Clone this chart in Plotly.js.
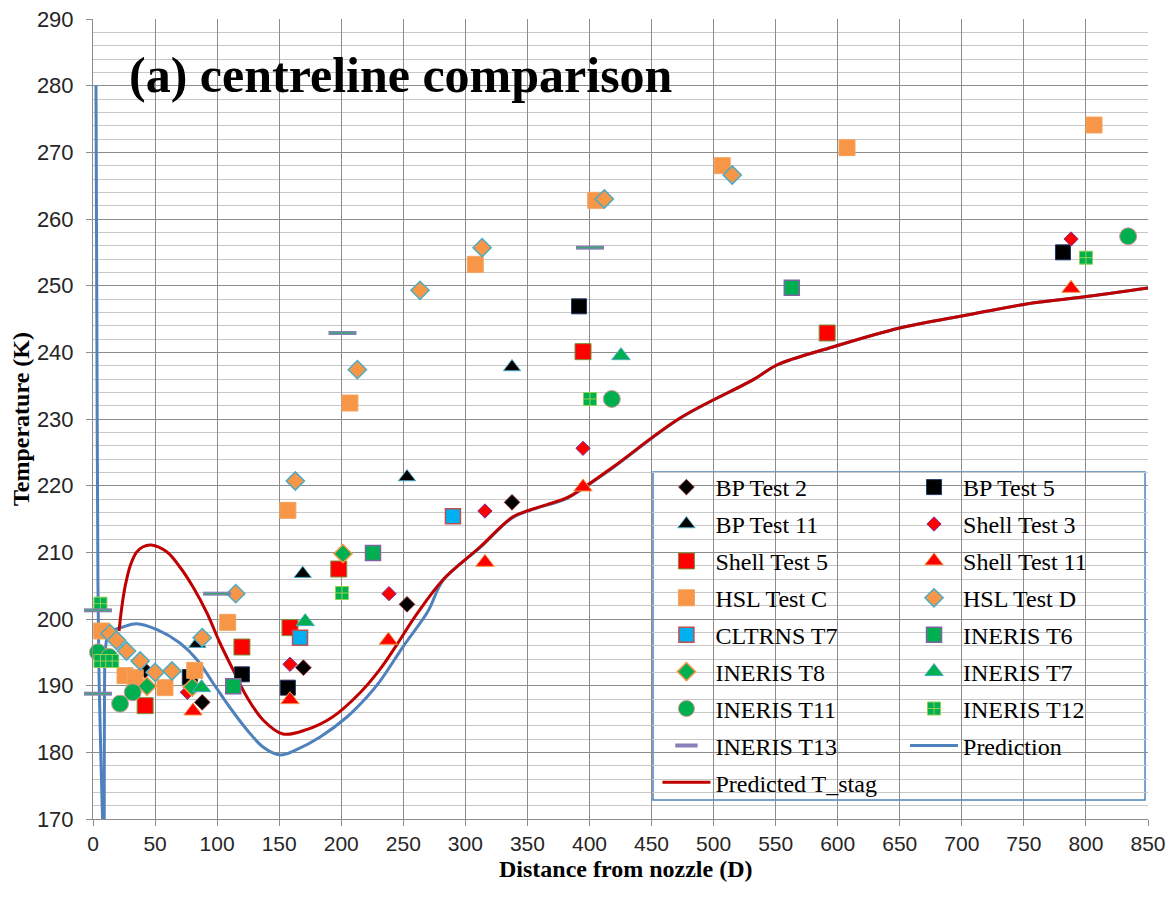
<!DOCTYPE html>
<html><head><meta charset="utf-8">
<script src="https://cdn.plot.ly/plotly-3.0.1.min.js"></script>
<style>html,body{margin:0;padding:0;background:#fff}#chart{width:1167px;height:899px}</style>
</head><body><div id="chart"></div>
<script>
// ---- data (distance from nozzle in D, temperature in K) ----
const bp2X = [42, 88, 169.5, 253, 337.6];
const bp2Y = [192.3, 187.5, 192.7, 202.2, 217.5];
const bp5X = [78, 120, 157, 391.6, 781.5];
const bp5Y = [191.3, 191.7, 189.7, 246.9, 255.0];
const bp11X = [84, 169, 253, 337.6];
const bp11Y = [196.3, 206.8, 221.3, 237.8];
const shell3X = [76, 158.7, 238.5, 315.8, 394.8, 788];
const shell3Y = [189.0, 193.2, 203.8, 216.2, 225.6, 257.0];
const shell5X = [42, 120, 158.7, 198, 394.8, 591.5];
const shell5Y = [187.0, 195.8, 198.7, 207.5, 240.1, 242.9];
const shell11X = [80.6, 158.7, 238, 315.8, 394.8, 788];
const shell11Y = [186.2, 187.9, 196.8, 208.5, 219.8, 249.6];
const hslCX = [7, 25.8, 34, 58, 82, 108.5, 157, 207, 308, 405, 507, 607.5, 806.5];
const hslCY = [198.2, 191.5, 191.2, 189.7, 192.3, 199.5, 216.3, 232.4, 253.2, 262.8, 268.0, 270.7, 274.1];
const hslDX = [13.7, 19, 27, 38, 50, 63.6, 88, 115, 163, 213, 263.5, 313.5, 412, 515];
const hslDY = [197.8, 196.8, 195.2, 193.7, 192.0, 192.2, 197.2, 203.8, 220.7, 237.4, 249.3, 255.7, 263.0, 266.6];
const cltrnsX = [166.8, 290];
const cltrnsY = [197.2, 215.4];
const in6X = [113, 225.6, 563];
const in6Y = [189.9, 209.9, 249.7];
const in8X = [43.5, 80, 201.4];
const in8Y = [189.9, 189.8, 209.8];
const in7X = [87.5, 171, 425.4];
const in7Y = [189.7, 199.6, 239.5];
const in11X = [4, 13, 21.8, 32, 418, 834];
const in11Y = [195.0, 194.3, 187.3, 189.0, 233.0, 257.4];
const in12X = [6, 6, 15.5, 200.6, 400.4, 800];
const in12Y = [202.3, 193.7, 193.7, 203.9, 233.0, 254.2];
const in13X = [4, 4, 100, 201, 400.4];
const in13Y = [201.3, 188.8, 203.8, 242.9, 255.7];
const predX = [2.4, 3, 4, 5, 6.5, 8, 8.8, 9, 9.1, 9.3, 10, 12, 16, 24, 35, 51.6, 70, 83.8, 96.7, 110, 124, 137, 150.7, 164, 183, 204.6, 220.7, 231, 250, 270, 282, 311.8, 338, 352, 382, 394.8, 419, 473, 532, 551, 596, 650, 704, 757, 797.6, 850];
const predY = [280, 250, 205, 190, 178, 168, 160, 165, 180, 190, 195.5, 197.5, 198.3, 198.8, 199.3, 198.4, 196.4, 193.9, 190.4, 186.8, 183.4, 180.8, 179.6, 180.4, 182.3, 185.3, 188.3, 190.6, 195.9, 201.2, 205.8, 210.7, 215.2, 216.3, 218.1, 219.6, 222.7, 230.1, 235.9, 238.1, 240.8, 243.65, 245.6, 247.4, 248.3, 249.65];
const stagX = [21, 23, 26, 30, 35, 40, 47, 59.6, 70, 80.6, 91.8, 102.3, 112.8, 124, 137, 153, 172, 193, 215, 231, 245, 260, 282, 311.8, 338, 352, 382, 394.8, 419, 473, 532, 551, 596, 650, 704, 757, 797.6, 850];
const stagY = [198.2, 201.5, 205, 208, 210, 210.8, 211.1, 210.05, 207.8, 204.8, 200.9, 196.4, 192.4, 188.3, 184.85, 182.75, 183.4, 185.3, 188.9, 192.4, 196.2, 200.5, 205.9, 210.8, 215.3, 216.35, 218.2, 219.65, 222.8, 230.15, 235.9, 238.1, 240.8, 243.65, 245.6, 247.4, 248.3, 249.65];
const xTicks = [0, 50, 100, 150, 200, 250, 300, 350, 400, 450, 500, 550, 600, 650, 700, 750, 800, 850];
const yTicks = [170, 180, 190, 200, 210, 220, 230, 240, 250, 260, 270, 280, 290];

function mk(name, xs, ys, sym, size, fill, lc, lw, leg, rank) {
  return {type: 'scatter', mode: 'markers', name: name, x: xs, y: ys,
    legend: leg, legendgroup: name, legendrank: rank, cliponaxis: false,
    marker: {symbol: sym, size: size, color: fill, line: {color: lc, width: lw}}};
}

const traces = [
  {type: 'scatter', mode: 'lines', name: 'Prediction', x: predX, y: predY, legend: 'legend2', legendgroup: 'pred', legendrank: 8,
   line: {color: '#4f81bd', width: 3, shape: 'spline', smoothing: 1}},
  {type: 'scatter', mode: 'lines', name: 'Predicted T_stag', x: stagX, y: stagY, legend: 'legend', legendgroup: 'stag', legendrank: 9,
   line: {color: '#c00000', width: 3, shape: 'spline', smoothing: 1}},
  mk('BP Test 2', bp2X, bp2Y, 'diamond', 12, '#000000', '#8b2a2a', 1, 'legend', 1),
  mk('BP Test 5', bp5X, bp5Y, 'square', 15, '#000000', '#1f3864', 1, 'legend2', 1),
  mk('BP Test 11', bp11X, bp11Y, 'triangle-up', 15, '#000000', '#4bacc6', 1, 'legend', 2),
  mk('Shell Test 3', shell3X, shell3Y, 'diamond', 11, '#ff0000', '#7030a0', 1, 'legend2', 2),
  mk('Shell Test 5', shell5X, shell5Y, 'square', 16, '#ff0000', '#77933c', 1, 'legend', 3),
  mk('Shell Test 11', shell11X, shell11Y, 'triangle-up', 16, '#ff0000', '#f79646', 1, 'legend2', 3),
  mk('HSL Test C', hslCX, hslCY, 'square', 16, '#f79646', '#f4a460', 1, 'legend', 4),
  mk('HSL Test D', hslDX, hslDY, 'diamond', 14, '#f79646', '#4bacc6', 1.5, 'legend2', 4),
  mk('CLTRNS T7', cltrnsX, cltrnsY, 'square', 15, '#00b0f0', '#c0504d', 1.5, 'legend', 5),
  mk('INERIS T6', in6X, in6Y, 'square', 15, '#00b050', '#8064a2', 1.5, 'legend2', 5),
  mk('INERIS T8', in8X, in8Y, 'diamond', 14, '#00b050', '#f79646', 1.5, 'legend', 6),
  mk('INERIS T7', in7X, in7Y, 'triangle-up', 16, '#00b050', '#4bacc6', 1, 'legend2', 6),
  mk('INERIS T11', in11X, in11Y, 'circle', 17, '#00b050', '#d99694', 1, 'legend', 7),
  mk('INERIS T12', in12X, in12Y, 'square-cross', 13, '#00b050', '#92d050', 1, 'legend2', 7),
  mk('INERIS T13', in13X, in13Y, 'line-ew', 20, '#8c7fb8', '#8c7fb8', 4, 'legend', 8),
  {type: 'scatter', mode: 'markers', name: 'INERIS T13', x: in13X, y: in13Y, showlegend: false, cliponaxis: false, hoverinfo: 'skip',
   marker: {symbol: 'line-ew', size: 18, color: '#00b050', line: {color: '#3aa870', width: 1.5}}}
];

const legendCommon = {
  xanchor: 'left', yanchor: 'top', bgcolor: 'rgba(0,0,0,0)', borderwidth: 0,
  font: {family: 'Liberation Serif, Times New Roman, serif', size: 24, color: '#000'},
  itemwidth: 48, tracegroupgap: 2.7, traceorder: 'grouped', orientation: 'v'
};

const serif = 'Liberation Serif, Times New Roman, serif';
const layout = {
  width: 1167, height: 899,
  margin: {l: 93, r: 19, t: 19, b: 80},
  paper_bgcolor: '#ffffff', plot_bgcolor: '#ffffff',
  showlegend: true,
  xaxis: {range: [0, 850], tickvals: xTicks, ticktext: xTicks.map(String),
    showgrid: true, gridcolor: '#8c8c8c', gridwidth: 1,
    showline: true, linecolor: '#8c8c8c', linewidth: 1, zeroline: false,
    ticks: 'outside', ticklen: 6, tickcolor: '#8c8c8c',
    tickfont: {family: 'Liberation Sans, Arial, sans-serif', size: 21, color: '#262626'}},
  yaxis: {range: [170, 290], tickvals: yTicks, ticktext: yTicks.map(String),
    showgrid: true, gridcolor: '#8c8c8c', gridwidth: 1,
    minor: {dtick: 2, showgrid: true, gridcolor: '#c8c8c8', gridwidth: 1},
    showline: true, linecolor: '#8c8c8c', linewidth: 1, zeroline: false,
    ticks: 'outside', ticklen: 6, tickcolor: '#8c8c8c', ticklabelstandoff: 8,
    tickfont: {family: 'Liberation Sans, Arial, sans-serif', size: 22, color: '#262626'},
    title: {text: 'Temperature (K)', standoff: 0,
      font: {family: serif, size: 24, weight: 'bold', color: '#000'}}},
  legend: Object.assign({}, legendCommon, {x: 0.535, y: 0.4425}),
  legend2: Object.assign({}, legendCommon, {x: 0.7697, y: 0.4425}),
  shapes: [
    {type: 'rect', xref: 'paper', yref: 'paper', x0: 0.5308, x1: 0.9972, y0: 0.02375, y1: 0.43375,
     layer: 'between', fillcolor: '#ffffff', line: {color: '#4f81bd', width: 1.5}},
    {type: 'rect', xref: 'paper', yref: 'paper', x0: 0.0161, x1: 0.6019, y0: 0.88875, y1: 0.98625,
     layer: 'between', fillcolor: '#ffffff', line: {width: 0}}
  ],
  annotations: [
    {text: '(a) centreline comparison', xref: 'paper', yref: 'paper', x: 0.0322, y: 0.93,
     xanchor: 'left', yanchor: 'middle', showarrow: false,
     font: {family: serif, size: 50, weight: 'bold', color: '#000'}},
    {text: 'Distance from nozzle (D)', xref: 'paper', yref: 'paper', x: 0.5043, y: -0.0625,
     xanchor: 'center', yanchor: 'middle', showarrow: false,
     font: {family: serif, size: 24, weight: 'bold', color: '#000'}}
  ]
};

Plotly.newPlot('chart', traces, layout, {displayModeBar: false, staticPlot: true});
</script></body></html>
